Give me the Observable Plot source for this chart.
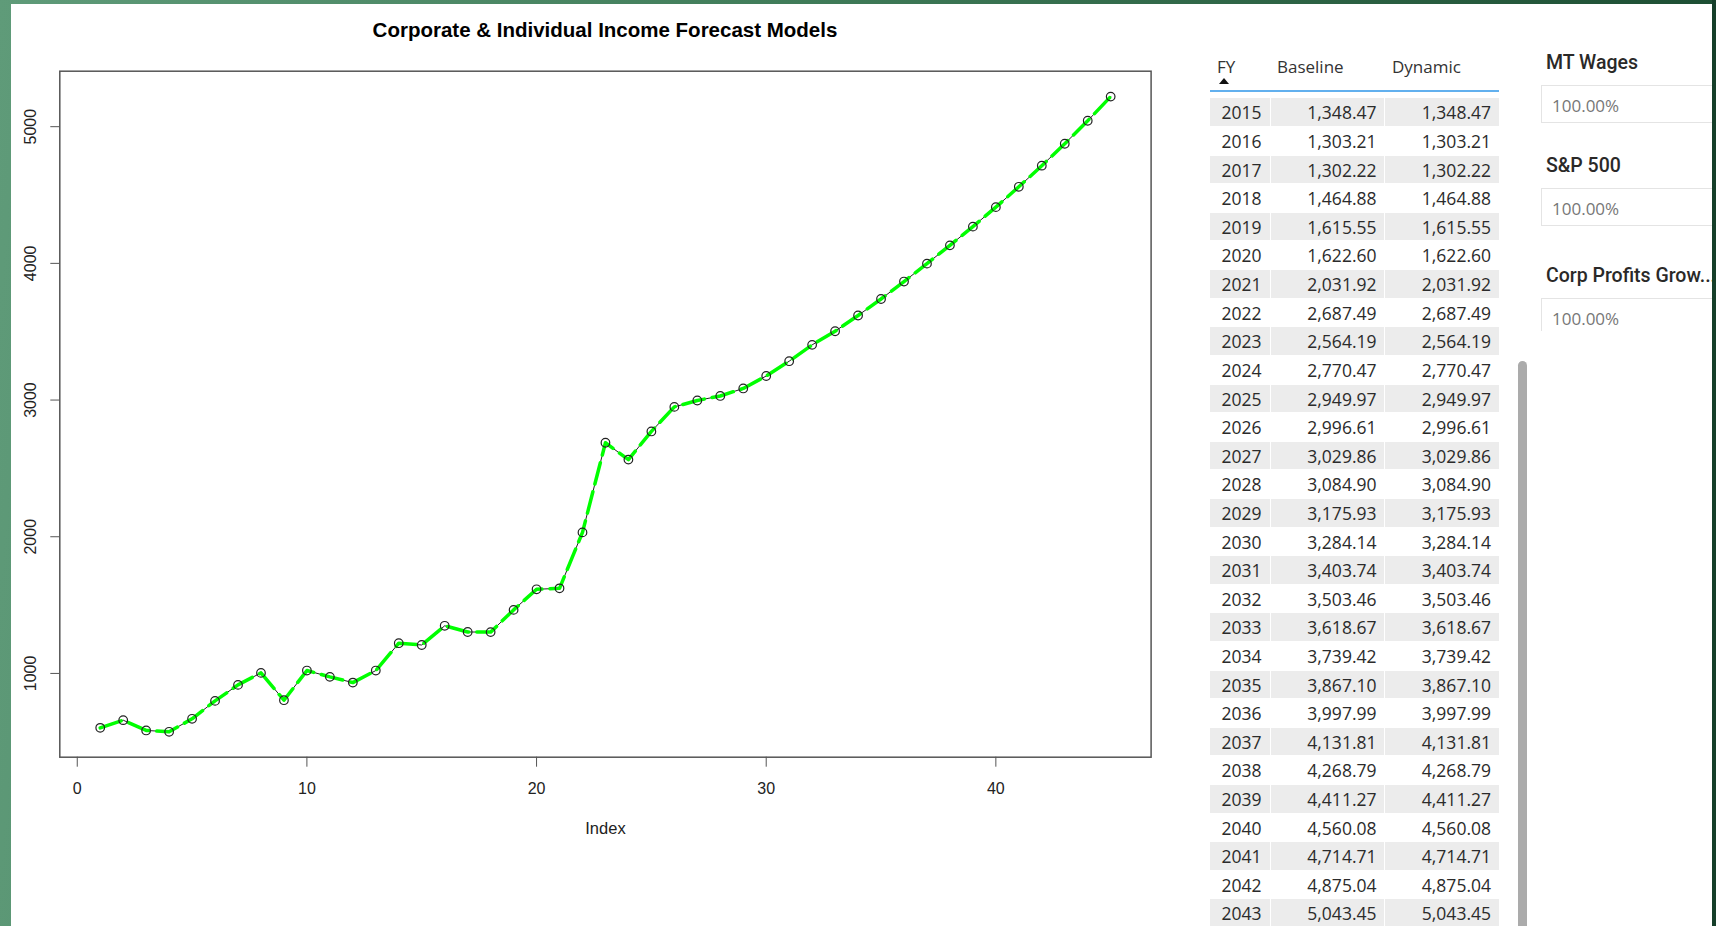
<!DOCTYPE html>
<html><head><meta charset="utf-8">
<script src="https://cdn.jsdelivr.net/npm/d3@7"></script>
<script src="https://cdn.jsdelivr.net/npm/@observablehq/plot@0.6"></script>
<style>
html,body{margin:0;padding:0;width:1716px;height:926px;overflow:hidden;}
body{position:relative;background:linear-gradient(95deg,#5f9b79 0%,#3f7b58 45%,#1a4a30 100%);font-family:"Liberation Sans",Arial,sans-serif;}
#panel{position:absolute;left:11px;top:4px;width:1701px;height:922px;background:#fff;}
#rightEdge{position:absolute;left:1712px;top:0;width:4px;height:926px;background:#163f2a;z-index:10;}
#chart{position:absolute;left:0;top:0;}
#title{position:absolute;left:0;width:1210px;top:17px;line-height:25px;text-align:center;font-weight:bold;font-size:20.5px;color:#000;}
.hdr{position:absolute;top:55px;line-height:24px;font-family:"Open Sans","Noto Sans",sans-serif;font-size:17px;color:#333;}
#sortArrow{position:absolute;left:1219px;top:78px;width:0;height:0;border-left:5px solid transparent;border-right:5px solid transparent;border-bottom:6px solid #111;}
#hdrLine{position:absolute;left:1210px;top:90px;width:289px;height:2px;background:#62b0ee;}
.row{position:absolute;left:1210px;width:289px;height:28.6px;font-family:"Open Sans","Noto Sans",sans-serif;font-size:17.5px;color:#2b2b2b;}
.cell{position:absolute;top:0;height:27.6px;line-height:28.6px;white-space:nowrap;}
.shade .cell{background:#ececec;}
#scroll{position:absolute;left:1518px;top:361px;width:9px;height:600px;border-radius:5px;background:#ababab;}
.slLabel{position:absolute;left:1546px;line-height:26px;font-family:Roboto,"Noto Sans",sans-serif;font-weight:500;font-size:19.5px;color:#2a2928;white-space:nowrap;}
.slBox{position:absolute;left:1541px;width:200px;border:1px solid #e4e4e4;box-sizing:border-box;overflow:hidden;}
.slVal{position:absolute;left:10px;font-family:"Open Sans","Noto Sans",sans-serif;font-size:17px;color:#777;white-space:nowrap;}
#clip3{position:absolute;left:1530px;top:290px;width:182px;height:41px;overflow:hidden;}
</style></head>
<body>
<div id="panel"></div>
<div id="chart"></div>
<div id="title">Corporate &amp; Individual Income Forecast Models</div>
<div id="tableArea"></div>
<div id="scroll"></div>
<div id="slicers"></div>
<div id="rightEdge"></div>
<script>
// ---- data ----
const fiscalYears = [2015,2016,2017,2018,2019,2020,2021,2022,2023,2024,2025,2026,2027,2028,2029,2030,2031,2032,2033,2034,2035,2036,2037,2038,2039,2040,2041,2042,2043];
const baselineValues = [1348.47,1303.21,1302.22,1464.88,1615.55,1622.60,2031.92,2687.49,2564.19,2770.47,2949.97,2996.61,3029.86,3084.90,3175.93,3284.14,3403.74,3503.46,3618.67,3739.42,3867.10,3997.99,4131.81,4268.79,4411.27,4560.08,4714.71,4875.04,5043.45];
const dynamicValues = [1348.47,1303.21,1302.22,1464.88,1615.55,1622.60,2031.92,2687.49,2564.19,2770.47,2949.97,2996.61,3029.86,3084.90,3175.93,3284.14,3403.74,3503.46,3618.67,3739.42,3867.10,3997.99,4131.81,4268.79,4411.27,4560.08,4714.71,4875.04,5043.45];
// plotted series, index 1..45
const seriesIndex = [1,2,3,4,5,6,7,8,9,10,11,12,13,14,15,16,17,18,19,20,21,22,23,24,25,26,27,28,29,30,31,32,33,34,35,36,37,38,39,40,41,42,43,44,45];
const seriesValues = [602,658,583,573,668,799,916,1004,804,1021,975,933,1021,1221,1208,1348.47,1303.21,1302.22,1464.88,1615.55,1622.60,2031.92,2687.49,2564.19,2770.47,2949.97,2996.61,3029.86,3084.90,3175.93,3284.14,3403.74,3503.46,3618.67,3739.42,3867.10,3997.99,4131.81,4268.79,4411.27,4560.08,4714.71,4875.04,5043.45,5220];
const xTicks = [0,10,20,30,40];
const yTicks = [1000,2000,3000,4000,5000];
const tableHeaders = ["FY","Baseline","Dynamic"];
const slicerLabels = ["MT Wages","S&P 500","Corp Profits Grow..."];
const slicerValues = ["100.00%","100.00%","100.00%"];

// ---- chart ----
const data = seriesIndex.map((i,k)=>({i, v: seriesValues[k]}));
const vmin = d3.min(seriesValues), vmax = d3.max(seriesValues);
const ext = (vmax - vmin) * 0.04;
const n = seriesIndex.length;
const xext = (seriesIndex[n-1] - seriesIndex[0]) * 0.04;
const chart = Plot.plot({
  width: 1180, height: 860,
  marginLeft: 59.3, marginTop: 70.7, marginRight: 29.4, marginBottom: 103.3,
  style: {fontFamily: '"Liberation Sans", Arial, sans-serif', fontSize: "16px", color: "#222", background: "transparent", overflow: "visible"},
  x: {domain: [seriesIndex[0] - xext, seriesIndex[n-1] + xext]},
  y: {domain: [vmin - ext, vmax + ext]},
  marks: [
    Plot.frame({stroke: "#555", strokeWidth: 1.5}),
    Plot.axisX({ticks: xTicks, tickSize: 10, tickPadding: 15, fontSize: 16, label: null, stroke: "#555"}),
    Plot.axisY({ticks: yTicks, tickSize: 9, tickFormat: () => "", label: null, stroke: "#555"}),
    Plot.text(yTicks, {y: d => d, frameAnchor: "left", dx: -29, rotate: -90, text: d => String(d), textAnchor: "middle", fontSize: 16}),
    Plot.text(["Index"], {frameAnchor: "bottom", dy: 76.5, text: d => d, fontSize: 16.5}),
    Plot.line(data, {x: "i", y: "v", stroke: "#222", strokeWidth: 1}),
    Plot.line(data, {x: "i", y: "v", stroke: "#00ff00", strokeWidth: 3.5, strokeDasharray: "22,8"}),
    Plot.dot(data, {x: "i", y: "v", r: 4.3, stroke: "#222", fill: "none", strokeWidth: 1.2})
  ]
});
document.getElementById("chart").appendChild(chart);

// ---- table ----
const ta = document.getElementById("tableArea");
const hdrLeft = [1217, 1277, 1392];
tableHeaders.forEach((h,k)=>{
  const d = document.createElement("div");
  d.className = "hdr"; d.style.left = hdrLeft[k] + "px"; d.textContent = h;
  ta.appendChild(d);
});
const arrow = document.createElement("div"); arrow.id = "sortArrow"; ta.appendChild(arrow);
const hl = document.createElement("div"); hl.id = "hdrLine"; ta.appendChild(hl);
const fmt = d3.format(",.2f");
fiscalYears.forEach((y,k)=>{
  const r = document.createElement("div");
  r.className = "row" + (k % 2 === 0 ? " shade" : "");
  r.style.top = (98.4 + k * 28.61) + "px";
  const c1 = document.createElement("div"); c1.className = "cell";
  c1.style.left = "0px"; c1.style.width = "60px";
  c1.innerHTML = '<span style="position:absolute;left:11.5px">' + y + '</span>';
  const c2 = document.createElement("div"); c2.className = "cell";
  c2.style.left = "61px"; c2.style.width = "113px";
  c2.innerHTML = '<span style="position:absolute;right:7.5px">' + fmt(baselineValues[k]) + '</span>';
  const c3 = document.createElement("div"); c3.className = "cell";
  c3.style.left = "175px"; c3.style.width = "114px";
  c3.innerHTML = '<span style="position:absolute;right:8px">' + fmt(dynamicValues[k]) + '</span>';
  r.appendChild(c1); r.appendChild(c2); r.appendChild(c3);
  ta.appendChild(r);
});

// ---- slicers ----
const sl = document.getElementById("slicers");
const labelTop = [50, 152.7, 263];
const boxTop = [85, 188, 298];
const boxH = [38.3, 38, 60];
slicerLabels.forEach((t,k)=>{
  const l = document.createElement("div"); l.className = "slLabel";
  l.style.top = labelTop[k] + "px"; l.textContent = t;
  sl.appendChild(l);
  const b = document.createElement("div"); b.className = "slBox";
  b.style.top = boxTop[k] + "px"; b.style.height = boxH[k] + "px";
  const v = document.createElement("div"); v.className = "slVal";
  v.style.top = "10px"; v.style.lineHeight = "20px"; v.textContent = slicerValues[k];
  b.appendChild(v);
  if (k === 2) {
    const clip = document.createElement("div"); clip.id = "clip3";
    b.style.left = "11px"; b.style.top = "8px";
    clip.appendChild(b); sl.appendChild(clip);
  } else sl.appendChild(b);
});
</script>
</body></html>
